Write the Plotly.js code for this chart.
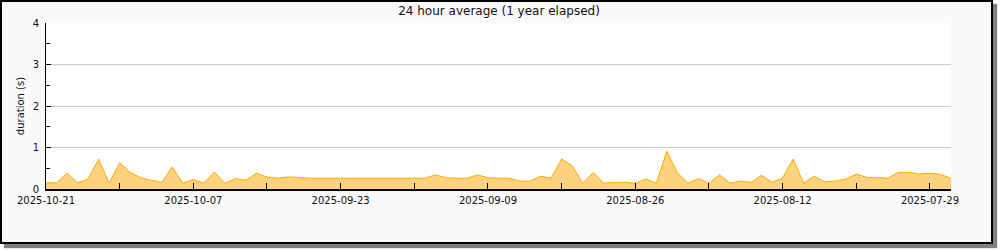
<!DOCTYPE html>
<html>
<head>
<meta charset="utf-8">
<script src="https://cdn.plot.ly/plotly-3.0.1.min.js"></script>
<style>
  html, body { margin: 0; padding: 0; width: 1000px; height: 250px; background: #ffffff; overflow: hidden; }
  #frame { position: absolute; left: 0; top: 0; width: 989px; height: 240px; border: 2px solid #000; background: #f9f9f9; box-shadow: 4px 4px 1px #808080; }
  #chart { position: absolute; left: 0; top: 0; width: 1000px; height: 250px; }
</style>
</head>
<body>
<div id="frame"></div>
<div id="chart"></div>
<script>
const dates = [
  "2025-10-21","2025-10-20","2025-10-19","2025-10-18","2025-10-17","2025-10-16","2025-10-15","2025-10-14","2025-10-13","2025-10-12",
  "2025-10-11","2025-10-10","2025-10-09","2025-10-08","2025-10-07","2025-10-06","2025-10-05","2025-10-04","2025-10-03","2025-10-02",
  "2025-10-01","2025-09-30","2025-09-29","2025-09-28","2025-09-27","2025-09-26","2025-09-25","2025-09-24","2025-09-23","2025-09-22",
  "2025-09-21","2025-09-20","2025-09-19","2025-09-18","2025-09-17","2025-09-16","2025-09-15","2025-09-14","2025-09-13","2025-09-12",
  "2025-09-11","2025-09-10","2025-09-09","2025-09-08","2025-09-07","2025-09-06","2025-09-05","2025-09-04","2025-09-03","2025-09-02",
  "2025-09-01","2025-08-31","2025-08-30","2025-08-29","2025-08-28","2025-08-27","2025-08-26","2025-08-25","2025-08-24","2025-08-23",
  "2025-08-22","2025-08-21","2025-08-20","2025-08-19","2025-08-18","2025-08-17","2025-08-16","2025-08-15","2025-08-14","2025-08-13",
  "2025-08-12","2025-08-11","2025-08-10","2025-08-09","2025-08-08","2025-08-07","2025-08-06","2025-08-05","2025-08-04","2025-08-03",
  "2025-08-02","2025-08-01","2025-07-31","2025-07-30","2025-07-29","2025-07-28","2025-07-27"
];
const durations = [
  0.15,0.15,0.38,0.15,0.24,0.72,0.14,0.63,0.40,0.27,
  0.21,0.16,0.53,0.14,0.23,0.14,0.41,0.14,0.25,0.21,
  0.38,0.29,0.26,0.29,0.28,0.26,0.26,0.26,0.26,0.26,
  0.26,0.26,0.26,0.26,0.26,0.26,0.26,0.34,0.27,0.26,
  0.26,0.34,0.27,0.26,0.26,0.19,0.19,0.31,0.26,0.72,
  0.56,0.14,0.40,0.14,0.16,0.16,0.14,0.24,0.14,0.91,
  0.39,0.14,0.25,0.14,0.34,0.14,0.19,0.16,0.33,0.16,
  0.27,0.72,0.14,0.31,0.17,0.19,0.24,0.36,0.28,0.28,
  0.26,0.40,0.40,0.36,0.38,0.35,0.26
];
const titleText = "24 hour average (1 year elapsed)";
const yTitle = "duration (s)";
const DAY = 86400000;

const trace = {
  type: "scatter",
  mode: "lines",
  x: dates,
  y: durations,
  fill: "tozeroy",
  fillcolor: "#ffd27f",
  line: { color: "#ffaa00", width: 1 },
  hoverinfo: "skip"
};

const layout = {
  width: 1000, height: 250,
  margin: { l: 46, r: 49, t: 23, b: 61, pad: 0 },
  paper_bgcolor: "rgba(0,0,0,0)",
  plot_bgcolor: "#ffffff",
  showlegend: false,
  font: { family: "DejaVu Sans", size: 10, color: "#111" },
  title: { text: titleText, font: { family: "DejaVu Sans", size: 12, color: "#111" }, x: 0.499, xanchor: "center", y: 0.955, yanchor: "middle" },
  xaxis: {
    type: "date",
    range: ["2025-10-21", "2025-07-27"],
    tick0: "2025-10-21",
    dtick: 14 * DAY,
    tickformat: "%Y-%m-%d",
    ticks: "inside", ticklen: 6, tickwidth: 1, tickcolor: "#000",
    minor: { dtick: 7 * DAY, tick0: "2025-10-21", ticks: "inside", ticklen: 6, tickwidth: 1, tickcolor: "#000", showgrid: false },
    showgrid: false,
    showline: true, linecolor: "#000", linewidth: 2,
    zeroline: false,
    ticklabelstandoff: 1,
    tickfont: { family: "DejaVu Sans", size: 10, color: "#111" },
    fixedrange: true
  },
  yaxis: {
    range: [0, 4],
    dtick: 1,
    ticks: "inside", ticklen: 5, tickwidth: 1, tickcolor: "#000",
    minor: { dtick: 0.5, ticks: "inside", ticklen: 4, tickwidth: 1, tickcolor: "#000", showgrid: false },
    showgrid: true, gridcolor: "#cccccc", gridwidth: 1,
    showline: true, linecolor: "#000", linewidth: 1,
    zeroline: false,
    ticklabelstandoff: 4,
    tickfont: { family: "DejaVu Sans", size: 10, color: "#111" },
    title: { text: yTitle, font: { family: "DejaVu Sans", size: 10, color: "#111" }, standoff: 6 },
    fixedrange: true
  }
};

Plotly.newPlot("chart", [trace], layout, { staticPlot: true, displayModeBar: false });
</script>
</body>
</html>
